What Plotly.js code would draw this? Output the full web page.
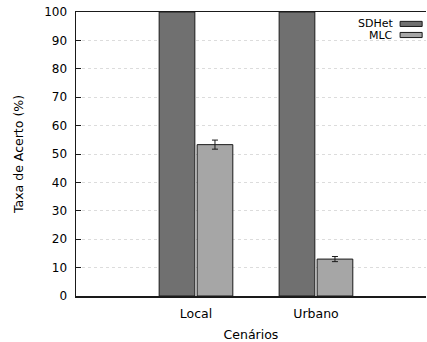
<!DOCTYPE html>
<html>
<head>
<meta charset="utf-8">
<script src="https://cdn.plot.ly/plotly-3.0.1.min.js"></script>
<style>
html,body{margin:0;padding:0;background:#fff;}
#chart{width:427px;height:342px;}
</style>
</head>
<body>
<div id="chart"></div>
<script>
const categories = ["Local", "Urbano"];
const seriesNames = ["SDHet", "MLC"];
const sdhetValues = [100, 100];
const mlcValues = [53.3, 13.0];
const mlcErrors = [1.6, 0.9];
const yTickValues = [0, 10, 20, 30, 40, 50, 60, 70, 80, 90, 100];
const xTitle = "Cenários";
const yTitle = "Taxa de Acerto (%)";
const colors = ["#707070", "#a6a6a6"];

const font = "DejaVu Sans, sans-serif";

const traces = [
  {
    type: "bar", name: seriesNames[0], x: categories, y: sdhetValues,
    marker: {color: colors[0], line: {color: "#1a1a1a", width: 1}},
    showlegend: false, hoverinfo: "skip"
  },
  {
    type: "bar", name: seriesNames[1], x: categories, y: mlcValues,
    marker: {color: colors[1], line: {color: "#1a1a1a", width: 1}},
    error_y: {type: "data", array: mlcErrors, visible: true, color: "#1a1a1a", thickness: 1, width: 3},
    showlegend: false, hoverinfo: "skip"
  }
];

// legend built manually (text on the left, sample on the right)
const legendX0 = 0.926, legendX1 = 0.989, legendTextX = 0.911;
const legendRows = [0.958, 0.919];
const shapes = [
  {type: "rect", xref: "paper", yref: "paper", x0: 0.80, x1: 1.0, y0: 0.89, y1: 0.985,
   fillcolor: "#ffffff", line: {width: 0}, layer: "below"}
];
const annotations = [];
seriesNames.forEach((n, i) => {
  const yc = legendRows[i];
  shapes.push({type: "rect", xref: "paper", yref: "paper", x0: legendX0, x1: legendX1,
    y0: yc - 0.009, y1: yc + 0.009, fillcolor: colors[i], line: {color: "#1a1a1a", width: 1}});
  annotations.push({xref: "paper", yref: "paper", x: legendTextX, y: yc, text: n,
    showarrow: false, xanchor: "right", yanchor: "middle",
    font: {family: font, size: 11, color: "#000"}});
});

const layout = {
  width: 427, height: 342,
  margin: {l: 76, r: 1, t: 12, b: 46},
  paper_bgcolor: "#fff", plot_bgcolor: "#fff",
  barmode: "group", bargap: 0.367, bargroupgap: 0.06,
  showlegend: false,
  font: {family: font, size: 12, color: "#000"},
  xaxis: {
    type: "category", range: [-1, 1.917],
    showgrid: false, zeroline: false,
    showline: true, mirror: true, linecolor: "#1a1a1a", linewidth: 1.5,
    ticks: "", tickfont: {family: font, size: 12.5},
    ticklabelstandoff: 5,
    title: {text: xTitle, font: {family: font, size: 12.5}, standoff: 14}
  },
  yaxis: {
    range: [0, 100], tickvals: yTickValues,
    showgrid: true, gridcolor: "#dcdcdc", griddash: "dot", gridwidth: 1,
    zeroline: false, showline: true, linecolor: "#1a1a1a", linewidth: 1.5,
    ticks: "inside", ticklen: 5, tickcolor: "#1a1a1a",
    tickfont: {family: font, size: 12},
    ticklabelstandoff: 5,
    title: {text: yTitle, font: {family: font, size: 12.5}, standoff: 18}
  },
  shapes: shapes,
  annotations: annotations
};

Plotly.newPlot("chart", traces, layout, {staticPlot: true, displayModeBar: false});
</script>
</body>
</html>
